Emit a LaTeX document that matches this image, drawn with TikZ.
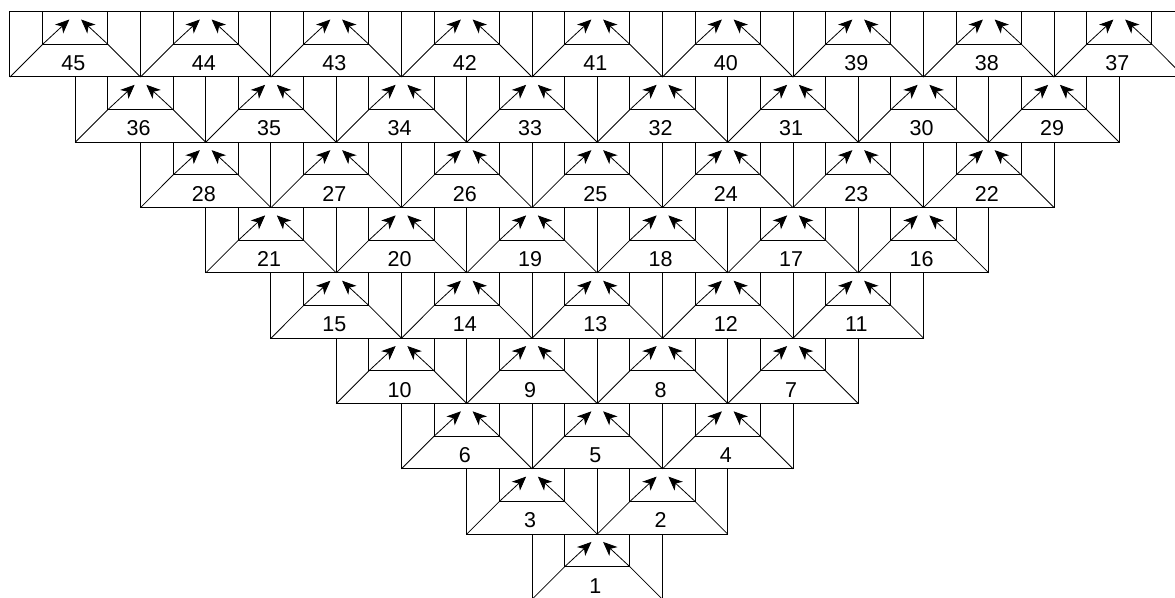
\documentclass[tikz,border=0pt]{standalone}
\usepackage{fontspec}
\setmainfont{Liberation Sans}
\usetikzlibrary{arrows.meta}
\begin{document}
\begin{tikzpicture}[
 x=65.25pt,y=65.3pt,
 cell/.style={line width=1pt,black},
 slant/.style={line width=0.8pt,black},
 flow/.style={line width=0.8pt,-{Stealth[length=14pt,width=12pt,inset=4pt]}},
 num/.style={inner sep=0pt,font=\fontsize{21.5}{24}\selectfont}
]
 \fill[white] (-0.153,0.022) rectangle (17.854,9.179);
 \useasboundingbox (-0.153,0.022) rectangle (17.854,9.179);
 \clip (-0.153,0.022) rectangle (17.854,9.179);

 % row r (counted from the bottom) holds r cells, numbered from right to left
 \foreach \r in {1,...,9}{
  \pgfmathtruncatemacro{\last}{\r-1}
  \foreach \j in {0,...,\last}{
   \pgfmathsetmacro{\xo}{9-\r+2*\j}
   \pgfmathtruncatemacro{\num}{\r*(\r+1)/2-\j}
   \begin{scope}[shift={(\xo,\r-1)}]
    \draw[cell] (0,0) rectangle (2,1);
    \draw[cell] (0.5,1) -- (0.5,0.5) -- (1.5,0.5) -- (1.5,1);
    \coordinate (bl\num) at (0.5,0.5);
    \coordinate (br\num) at (1.5,0.5);
    \coordinate (tl\num) at (0.91,0.88);
    \coordinate (tr\num) at (1.09,0.88);
    \draw[slant] (bl\num) -- (0,0);
    \draw[slant] (br\num) -- (2,0);
    \draw[flow] (bl\num) -- (tl\num);
    \draw[flow] (br\num) -- (tr\num);
    \node[num] (n\num) at (0.97,0.21) {\num};
   \end{scope}
  }
 }
\end{tikzpicture}
\end{document}
